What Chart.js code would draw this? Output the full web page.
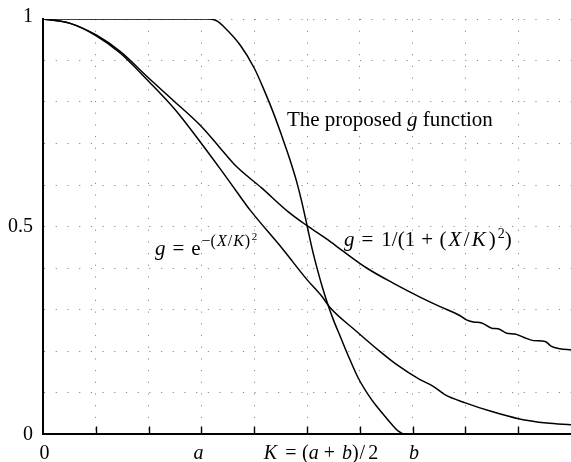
<!DOCTYPE html>
<html>
<head>
<meta charset="utf-8">
<script src="https://cdn.jsdelivr.net/npm/chart.js@4/dist/chart.umd.min.js"></script>
<style>
  html, body { margin: 0; padding: 0; background: #fff; }
  canvas { display: block; }
</style>
</head>
<body>
<canvas id="chart" width="571" height="462"></canvas>
<script>
  // values (x in the same units as the ticks, 0..10)
  const propX = [0, 3.15, 3.3, 3.42, 3.73, 4.0, 4.2, 4.36, 4.49, 4.6, 4.7, 4.8, 4.9, 5.0, 5.1, 5.2, 5.3, 5.4, 5.5, 5.63, 5.81, 5.97, 6.2, 6.35, 6.48, 6.6, 6.73, 6.85, 7.0];
  const propY = [1, 1, 0.995, 0.982, 0.938, 0.882, 0.825, 0.775, 0.73, 0.69, 0.652, 0.61, 0.56, 0.503, 0.445, 0.395, 0.35, 0.31, 0.275, 0.235, 0.18, 0.135, 0.087, 0.062, 0.042, 0.024, 0.007, 0, 0];

  const ratX = [0, 0.5, 1.0, 1.46, 2.0, 2.5, 3.0, 3.35, 3.66, 4.14, 4.64, 5.0, 5.37, 5.69, 6.13, 6.64, 7.14, 7.52, 7.9, 8.02, 8.15, 8.31, 8.5, 8.62, 8.78, 8.94, 9.1, 9.29, 9.51, 9.63, 9.79, 10];
  const ratY = [1, 0.99, 0.962, 0.922, 0.858, 0.80, 0.741, 0.69, 0.645, 0.593, 0.536, 0.502, 0.47, 0.44, 0.40, 0.363, 0.33, 0.307, 0.285, 0.275, 0.27, 0.2675, 0.255, 0.2537, 0.243, 0.241, 0.233, 0.225, 0.223, 0.211, 0.2055, 0.203];

  const gaussX = [0, 0.5, 1.0, 1.46, 2.0, 2.5, 3.0, 3.35, 3.73, 3.92, 4.55, 5.0, 5.28, 5.44, 5.94, 6.38, 6.7, 7.14, 7.39, 7.61, 8.0, 8.5, 9.0, 9.54, 10];
  const gaussY = [1, 0.99, 0.96, 0.918, 0.85, 0.782, 0.70, 0.64, 0.573, 0.54, 0.444, 0.372, 0.332, 0.304, 0.247, 0.199, 0.167, 0.131, 0.115, 0.095, 0.075, 0.054, 0.037, 0.0265, 0.0224];

  const xTickValues = [0, 3, 5, 7];
  const yTickValues = [0, 0.5, 1];
  const yTickLabels = ['0', '0.5', '1'];

  const SERIF = '"Liberation Serif", "DejaVu Serif", serif';

  // rich text pieces: t = text, it = italic, size, rise (px above baseline), gap (px before)
  const xTickRuns = [
    [{ t: '0' }],
    [{ t: 'a', it: true }],
    [{ t: 'K', it: true }, { t: '=', gap: 8 }, { t: '(', gap: 5.5 }, { t: 'a', it: true }, { t: '+', gap: 5 },
     { t: 'b', it: true, gap: 7 }, { t: ')' }, { t: '/', gap: 1 }, { t: '2', gap: 3 }],
    [{ t: 'b', it: true }],
  ];
  const xTickNudge = [1.5, -3, 14, 1.5];

  const proposedRuns = [{ t: 'The proposed ' }, { t: 'g', it: true }, { t: ' function' }];
  const gaussRuns = [
    { t: 'g', it: true }, { t: '=', gap: 7 }, { t: 'e', gap: 7 },
    { t: '\u2212(', size: 16, rise: 9, gap: 1 }, { t: 'X', it: true, size: 16, rise: 9, gap: 1 },
    { t: '/', size: 16, rise: 9, gap: 1 }, { t: 'K', it: true, size: 16, rise: 9, gap: 1 },
    { t: ')', size: 16, rise: 9, gap: 1 }, { t: '2', size: 11, rise: 14.5, gap: 1.5 },
  ];
  const ratRuns = [
    { t: 'g', it: true }, { t: '=', gap: 7 }, { t: '1/(1', gap: 8 }, { t: '+', gap: 6 },
    { t: '(', gap: 6.5 }, { t: 'X', it: true, gap: 2 }, { t: '/', gap: 2.5 }, { t: 'K', it: true, gap: 2 },
    { t: ')', gap: 3 }, { t: '2', size: 14, rise: 8, gap: 2 }, { t: ')' },
  ];

  function toPoints(xs, ys) {
    return xs.map((x, i) => ({ x, y: ys[i] }));
  }

  function runFont(r, base) {
    return (r.it ? 'italic ' : '') + (r.size || base) + 'px ' + SERIF;
  }

  function runsWidth(ctx, runs, base) {
    let w = 0;
    runs.forEach((r) => {
      ctx.font = runFont(r, base);
      w += (r.gap || 0) + ctx.measureText(r.t).width;
    });
    return w;
  }

  function drawRuns(ctx, runs, x, y, base) {
    let cx = x;
    runs.forEach((r) => {
      cx += r.gap || 0;
      ctx.font = runFont(r, base);
      ctx.fillText(r.t, cx, y - (r.rise || 0));
      cx += ctx.measureText(r.t).width;
    });
  }

  const sketchLabels = {
    id: 'sketchLabels',
    afterDatasetsDraw(chart) {
      const { ctx, chartArea } = chart;
      const xs = chart.scales.x;
      const ys = chart.scales.y;
      ctx.save();

      // inward tick marks on the x axis
      ctx.strokeStyle = '#000';
      ctx.lineWidth = 1.4;
      xs.ticks.forEach((t) => {
        if (t.value <= 0 || t.value >= xs.max) return;
        const px = Math.round(xs.getPixelForValue(t.value)) + 0.5;
        ctx.beginPath();
        ctx.moveTo(px, chartArea.bottom);
        ctx.lineTo(px, chartArea.bottom - 7.5);
        ctx.stroke();
      });

      ctx.fillStyle = '#000';
      ctx.textBaseline = 'alphabetic';
      ctx.textAlign = 'left';

      // x tick labels
      xTickValues.forEach((v, i) => {
        const runs = xTickRuns[i];
        const w = runsWidth(ctx, runs, 20);
        const cx = xs.getPixelForValue(v) + xTickNudge[i];
        drawRuns(ctx, runs, cx - w / 2, chartArea.bottom + 25, 20);
      });

      // y tick labels
      ctx.textAlign = 'right';
      ctx.textBaseline = 'middle';
      ctx.font = '20px ' + SERIF;
      yTickValues.forEach((v, i) => {
        const nudge = v === 1 ? -2 : 0.5;
        ctx.fillText(yTickLabels[i], chartArea.left - 10, ys.getPixelForValue(v) + nudge);
      });

      // curve annotations
      ctx.textAlign = 'left';
      ctx.textBaseline = 'alphabetic';
      drawRuns(ctx, proposedRuns, xs.getPixelForValue(4.62), ys.getPixelForValue(0.741), 21);
      drawRuns(ctx, gaussRuns, xs.getPixelForValue(2.12), ys.getPixelForValue(0.432), 21);
      drawRuns(ctx, ratRuns, xs.getPixelForValue(5.70), ys.getPixelForValue(0.4537), 21);

      ctx.restore();
    },
  };

  function lineSet(points) {
    return {
      data: points,
      showLine: true,
      borderColor: '#000',
      borderWidth: 1.5,
      pointRadius: 0,
      fill: false,
      cubicInterpolationMode: 'monotone',
    };
  }

  const gridOpts = { color: '#8c8c8c', lineWidth: 1, drawTicks: false };
  const borderOpts = { display: true, color: '#000', width: 2, dash: [1.2, 10.5] };

  new Chart(document.getElementById('chart').getContext('2d'), {
    type: 'scatter',
    data: {
      datasets: [
        lineSet(toPoints(propX, propY)),
        lineSet(toPoints(ratX, ratY)),
        lineSet(toPoints(gaussX, gaussY)),
      ],
    },
    options: {
      responsive: false,
      animation: false,
      events: [],
      layout: { padding: { left: 43, top: 19, right: 0, bottom: 28 } },
      plugins: { legend: { display: false }, tooltip: { enabled: false } },
      scales: {
        x: {
          type: 'linear',
          min: 0,
          max: 10,
          ticks: { display: false, stepSize: 1 },
          grid: gridOpts,
          border: borderOpts,
        },
        y: {
          type: 'linear',
          min: 0,
          max: 1,
          ticks: { display: false, stepSize: 0.1 },
          grid: gridOpts,
          border: borderOpts,
        },
      },
    },
    plugins: [sketchLabels],
  });
</script>
</body>
</html>
